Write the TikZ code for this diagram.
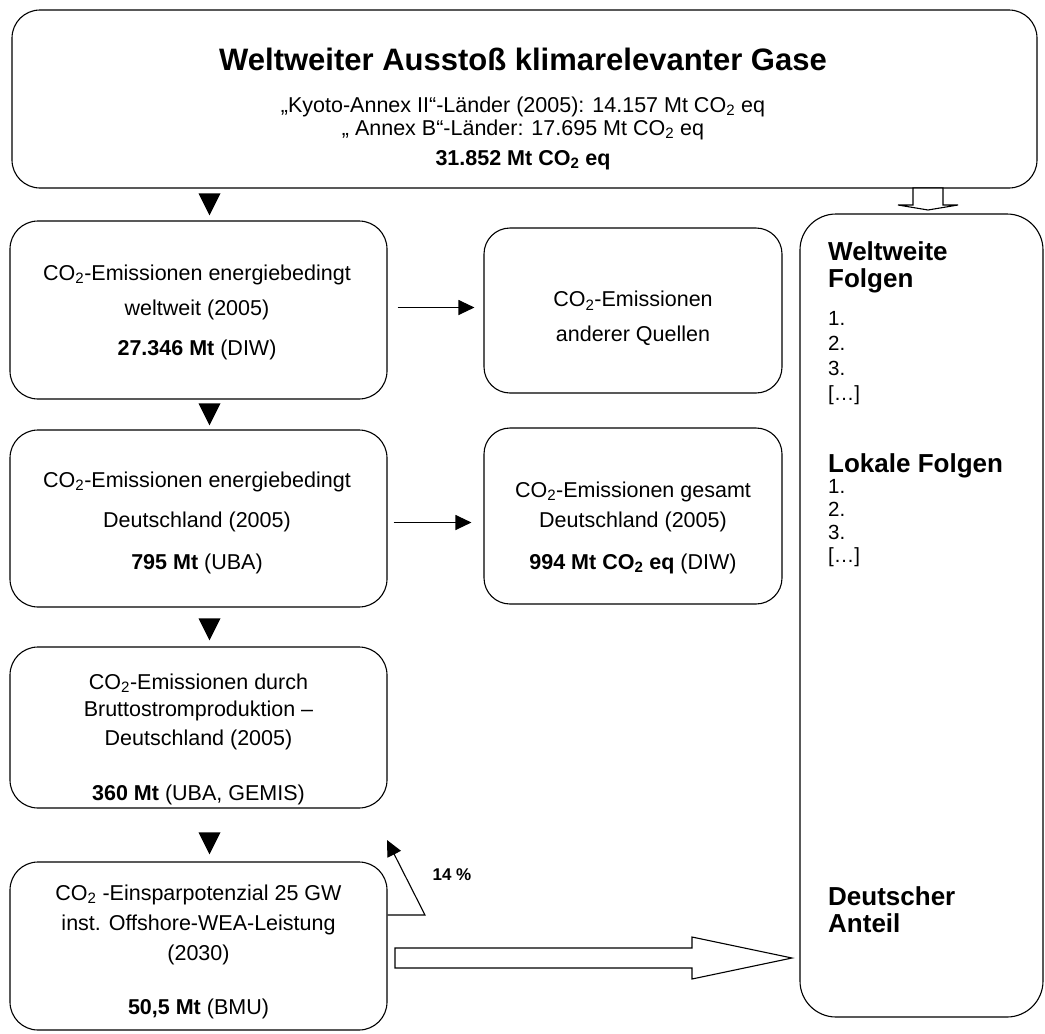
\documentclass[tikz,border=0pt]{standalone}
\usepackage{fontspec}
\setmainfont{Liberation Sans}
\usetikzlibrary{arrows.meta,shapes.geometric}

\newcommand{\COtwo}{CO\textsubscript{2}}

\tikzset{
  box/.style={draw, line width=1.1pt, rounded corners=28pt},
  txt/.style={align=center, inner sep=0pt, font=\fontsize{21.5}{30}\selectfont},
  head/.style={align=left, inner sep=0pt, anchor=north west, font=\fontsize{26}{27}\selectfont\bfseries},
  lst/.style={align=left, inner sep=0pt, anchor=north west, font=\fontsize{20.5}{25}\selectfont},
  tri/.style={isosceles triangle, isosceles triangle stretches=true, shape border rotate=270,
    fill=black, inner sep=0pt, minimum width=22pt, minimum height=22pt, anchor=apex},
  conn/.style={-{Triangle[length=16pt,width=15pt]}, line width=1.1pt},
  hollow/.style={draw, line width=1.1pt, fill=white},
}

\begin{document}
\begin{tikzpicture}[x=1pt, y=-1pt]
	\useasboundingbox (0,0) rectangle (1045,1034);

	\node[box, minimum width=1025pt, minimum height=178pt] (welt) at (524.5,99) {};
	\node[txt, font=\fontsize{21.5}{23}\selectfont] (weltt) at (523,109)
		{{\fontsize{31}{36}\selectfont\bfseries Weltweiter Ausstoß klimarelevanter Gase}\\[19pt]
		 „Kyoto-Annex II“-Länder (2005): 14.157 Mt \COtwo{} eq\\
		 „ Annex B“-Länder: 17.695 Mt \COtwo{} eq\\[7pt]
		 \textbf{31.852 Mt \COtwo{} eq}};

	\node[box, minimum width=377pt, minimum height=178pt] (energie) at (198.5,310) {};
	\node[txt] (energiet) at (197,312.5)
		{\COtwo-Emissionen energiebedingt\\[5pt] weltweit (2005)\\[10pt] \textbf{27.346 Mt} (DIW)};

	\node[box, minimum width=377pt, minimum height=177pt] (de) at (198.5,518.5) {};
	\node[txt] (det) at (197,523)
		{\COtwo-Emissionen energiebedingt\\[10pt] Deutschland (2005)\\[12pt] \textbf{795 Mt} (UBA)};

	\node[box, minimum width=377pt, minimum height=161pt] (strom) at (198.5,727.5) {};
	\node[txt] (stromt) at (198.5,739)
		{\COtwo-Emissionen durch\\[-3pt] Bruttostromproduktion –\\[-1pt] Deutschland (2005)\\[25pt]
		 \textbf{360 Mt} (UBA, GEMIS)};

	\node[box, minimum width=377pt, minimum height=168pt] (spar) at (198.5,946) {};
	\node[txt] (spart) at (198.5,952)
		{\COtwo{} -Einsparpotenzial 25 GW\\ inst. Offshore-WEA-Leistung\\ (2030)\\[24pt]
		 \textbf{50,5 Mt} (BMU)};

	\node[box, rounded corners=26pt, minimum width=298pt, minimum height=165pt] (andere) at (633,310.5) {};
	\node[txt] (anderet) at (633,318.5) {\COtwo-Emissionen\\[5pt] anderer Quellen};

	\node[box, rounded corners=26pt, minimum width=298pt, minimum height=176pt] (gesamt) at (633,516) {};
	\node[txt] (gesamtt) at (633,528)
		{\COtwo-Emissionen gesamt\\ Deutschland (2005)\\[12pt] \textbf{994 Mt \COtwo{} eq} (DIW)};

	\node[box, rounded corners=36pt, minimum width=243pt, minimum height=803pt] (folgen) at (921.5,615.5) {};
	\node[head] (wwh) at (828,241) {Weltweite\\Folgen};
	\node[lst] (wwl) at (828,311) {1.\\2.\\3.\\{[…]}};
	\node[head] (lkh) at (828,453) {Lokale Folgen};
	\node[lst, font=\fontsize{20.5}{23}\selectfont] (lkl) at (828,479) {1.\\2.\\3.\\{[…]}};
	\node[head] (anteil) at (828,886) {Deutscher\\Anteil};

	\node[tri] (t1) at (209.5,216) {};
	\node[tri] (t2) at (209.5,426) {};
	\node[tri] (t3) at (209.5,641) {};
	\node[tri] (t4) at (209.5,855) {};

	\draw[conn, shorten <=10pt, shorten >=9pt]
		([yshift=2.5pt]energie.east) -- ([yshift=2.5pt]energie.east -| andere.west);
	\draw[conn, shorten <=6pt, shorten >=12pt]
		([yshift=-4pt]de.east) -- ([yshift=-4pt]de.east -| gesamt.west);

	\coordinate (knick) at (425,915);
	\coordinate (ziel) at (387,840);
	\draw[conn] ([yshift=31pt]spar.east) -- (knick) -- (ziel);
	\node[font=\fontsize{17}{20}\selectfont\bfseries] (proz) at (452,875) {14 \%};

	\coordinate (pfeil) at (395,958);
	\coordinate (spitze) at (792,958);
	\draw[hollow] (pfeil) ++(0,-10) -- ++(297,0) -- ++(0,-11) -- (spitze) -- ++(-100,21)
		-- ++(0,-11) -- ++(-297,0) -- cycle;

	\coordinate (oben) at (928,188);
	\coordinate (unten) at (928,210);
	\draw[hollow] (oben) ++(-15,0) -- ++(0,17) -- ++(-15,0) -- (unten) -- ++(30,-5)
		-- ++(-15,0) -- ++(0,-17) -- cycle;
\end{tikzpicture}
\end{document}
